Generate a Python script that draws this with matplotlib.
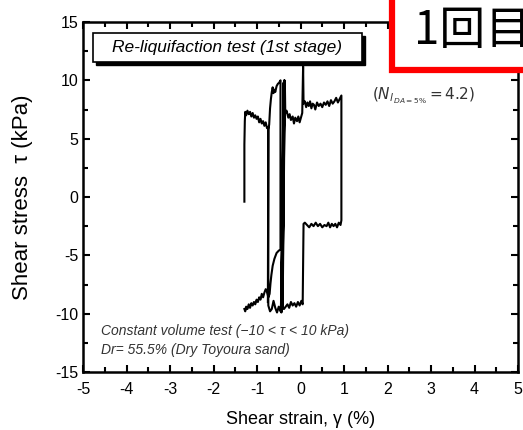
import numpy as np
import matplotlib
matplotlib.use("Agg")
import matplotlib.pyplot as plt
from matplotlib.patches import Rectangle
from matplotlib.ticker import MultipleLocator

plt.rcParams['font.family'] = ['Liberation Sans', 'DejaVu Sans']
plt.rcParams['axes.unicode_minus'] = False

# ---- data (shear strain %, shear stress kPa); NaN = break in record ----
strain = [
    -0.40, -0.39, -0.42, -0.37, -0.44, -0.38, -0.41, -0.36, -0.45, -0.39, -0.43, -0.37, -0.42, -0.36,
    -0.35, -0.32, -0.28, -0.25, -0.22, -0.18, -0.15, -0.12, -0.08, -0.05, -0.02, 0.01, 0.04,
    0.06, 0.07, 0.10, 0.13, 0.16, 0.19, 0.22, 0.25, 0.28, 0.31, 0.34, 0.38, 0.42, 0.46, 0.50,
    0.54, 0.58, 0.62, 0.66, 0.70, 0.74, 0.78, 0.82, 0.86, 0.90, 0.94,
    0.94, 0.92, 0.88, 0.84, 0.80, 0.76, 0.72, 0.68, 0.64, 0.60, 0.55, 0.50, 0.45, 0.40, 0.35,
    0.30, 0.25, 0.20, 0.15, 0.10, 0.07,
    0.05, 0.02, -0.02, -0.06, -0.10, -0.14, -0.18, -0.22, -0.26, -0.30, -0.34, -0.38,
    -0.42, -0.46, -0.50, -0.54, -0.58, -0.62, -0.66, -0.70,
    -0.74, -0.74, -0.72, -0.70, -0.68, -0.66, -0.64, -0.62, -0.60, -0.58, -0.55, -0.52, -0.49, -0.46,
    -0.46, -0.50, -0.55, -0.60, -0.64, -0.67, -0.69, -0.70, -0.71,
    -0.74, -0.77, -0.80, -0.83, -0.86, -0.89, -0.92, -0.95, -0.98, -1.01, -1.04, -1.07, -1.10,
    -1.13, -1.16, -1.19, -1.22, -1.25, -1.27, -1.29,
    np.nan,
    -1.29, -1.29, -1.28, -1.27, -1.25, -1.22, -1.19, -1.16, -1.13, -1.10, -1.07, -1.04, -1.01,
    -0.98, -0.95, -0.92, -0.89, -0.86, -0.83, -0.80, -0.77, -0.74,
    -0.75,
]
stress = [
    0.0, 9.8, -9.6, 10.0, -9.9, 9.5, -9.4, 9.9, -9.7, 9.6, -9.8, 10.0, -9.5, 9.9,
    7.2, 7.4, 6.8, 7.1, 6.6, 6.9, 6.3, 6.8, 6.5, 6.9, 6.4, 6.8, 7.2,
    11.2, 8.0, 8.2, 7.7, 8.1, 7.8, 8.2, 7.6, 8.0, 7.9, 7.5, 8.1, 7.8, 8.0, 7.7,
    8.1, 7.9, 8.2, 7.8, 8.3, 8.0, 8.2, 8.5, 8.1, 8.4, 8.7,
    -2.0, -2.4, -2.2, -2.6, -2.3, -2.5, -2.3, -2.6, -2.2, -2.5, -2.4, -2.6, -2.3, -2.5, -2.2,
    -2.5, -2.3, -2.6, -2.4, -2.2, -2.3,
    -9.2, -8.9, -9.3, -9.0, -9.4, -9.1, -9.3, -9.0, -9.5, -9.2, -9.4, -9.6,
    -9.3, -9.8, -9.4, -9.9, -9.5, -8.9, -9.6, -9.8,
    -9.3, 5.8, 6.2, 7.6, 8.4, 9.0, 9.4, 8.9, 9.2, 9.0, 9.5, 9.7, 9.8, 10.0,
    -4.5, -4.6, -4.8, -5.3, -5.9, -6.7, -7.4, -7.9, -8.3,
    -8.6, -8.1, -7.9, -8.2, -8.6, -8.3, -8.8, -8.6, -9.0, -8.8, -9.2, -9.0, -9.3,
    -9.1, -9.5, -9.2, -9.6, -9.4, -9.8, -9.6,
    np.nan,
    -0.4, 4.5, 6.5, 7.3, 7.0, 7.4, 7.1, 7.3, 6.9, 7.2, 6.8, 7.0, 6.7,
    6.9, 6.4, 6.7, 6.3, 6.5, 6.1, 6.4, 5.9, 6.0,
    -9.0,
]

x_ticks = [-5, -4, -3, -2, -1, 0, 1, 2, 3, 4, 5]
y_ticks = [-15, -10, -5, 0, 5, 10, 15]

fig = plt.figure(figsize=(5.23, 4.30), dpi=100)
ax = fig.add_axes([83/523, 58/430, 435/523, 350/430])

ax.plot(strain, stress, color='black', lw=1.5)

ax.set_xlim(-5, 5)
ax.set_ylim(-15, 15)
ax.set_xticks(x_ticks)
ax.set_yticks(y_ticks)
ax.xaxis.set_minor_locator(MultipleLocator(0.5))
ax.yaxis.set_minor_locator(MultipleLocator(2.5))
ax.tick_params(which='both', direction='in', top=True, right=True, width=1.5, labelsize=11.5)
ax.tick_params(which='major', length=5)
ax.tick_params(which='minor', length=3.5)
ax.tick_params(axis='x', pad=7)
for s in ax.spines.values():
    s.set_linewidth(1.8)

ax.set_xlabel('Shear strain, γ (%)', fontsize=13, labelpad=10)
ax.set_ylabel('Shear stress  τ (kPa)', fontsize=16, labelpad=16)

# title box with shadow
ax.add_patch(Rectangle((0.030, 0.876), 0.618, 0.083, transform=ax.transAxes,
                       facecolor='black', edgecolor='black', zorder=4, clip_on=False))
ax.add_patch(Rectangle((0.023, 0.886), 0.618, 0.083, transform=ax.transAxes,
                       facecolor='white', edgecolor='black', lw=1.2, zorder=5, clip_on=False))
ax.text(0.332, 0.927, 'Re-liquifaction test (1st stage)', transform=ax.transAxes,
        ha='center', va='center', fontsize=12.5, style='italic', zorder=6)

ax.text(0.664, 0.79, r'$(N_{l_{\,DA=5\%}}=4.2)$', transform=ax.transAxes,
        ha='left', va='center', fontsize=11, color='#333333')

ax.text(0.041, 0.117, 'Constant volume test (−10 < τ < 10 kPa)', transform=ax.transAxes,
        ha='left', va='center', fontsize=10, style='italic', color='#333333')
ax.text(0.041, 0.063, 'Dr= 55.5% (Dry Toyoura sand)', transform=ax.transAxes,
        ha='left', va='center', fontsize=10, style='italic', color='#333333')

# red framed label
fig.patches.append(Rectangle((392/523, (430-70)/430), 0.4, 0.3, transform=fig.transFigure,
                             facecolor='white', edgecolor='#ff0000', lw=4.5, zorder=10))
fig.text(414/523, (430-31)/430, '1回目', fontsize=33, ha='left', va='center',
         family=['Noto Sans CJK JP', 'DejaVu Sans'], zorder=11)

fig.savefig('out.png', dpi=100)
